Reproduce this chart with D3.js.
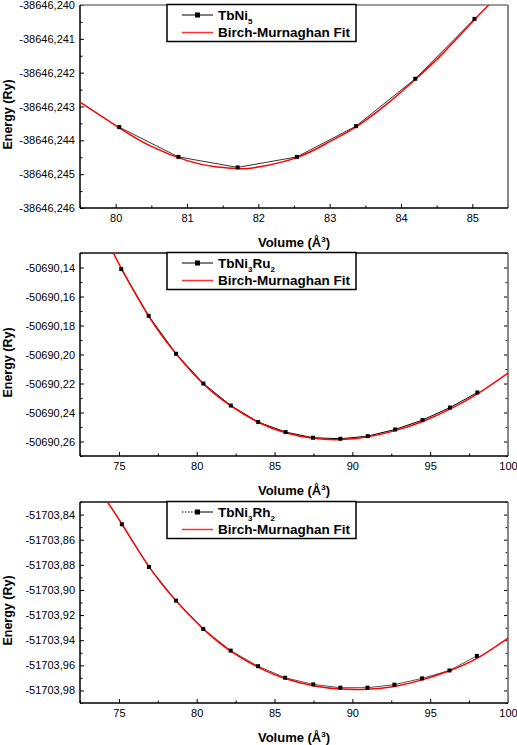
<!DOCTYPE html>
<html><head><meta charset="utf-8">
<script src="https://cdn.jsdelivr.net/npm/d3@7/dist/d3.min.js"></script>
<style>
body{margin:0;background:#fff}
svg{display:block}
text{font-family:"Liberation Sans",Arial,Helvetica,sans-serif}
</style>
</head><body>
<svg id="chart" width="517" height="745"></svg>
<script>
// ---------- DATA ----------
// Panel 1: TbNi5
const p1Volume = [80.05, 80.88, 81.71, 82.54, 83.37, 84.20, 85.03];
const p1Energy = [-38646.24361, -38646.24449, -38646.24480, -38646.24449, -38646.24358, -38646.24218, -38646.24041];
const p1FitVolume = [79.5, 80.05, 80.5, 81.0, 81.4, 81.75, 82.0, 82.54, 83.0, 83.37, 83.8, 84.2, 84.6, 85.0, 85.23];
const p1FitEnergy = [-38646.24287, -38646.24363, -38646.24418, -38646.24460, -38646.24478, -38646.24484, -38646.24479, -38646.24451, -38646.24404, -38646.24360, -38646.24293, -38646.24220, -38646.24140, -38646.24050, -38646.24000];
const p1XTicks = [80, 81, 82, 83, 84, 85];
const p1XMinor = [79.5, 80.5, 81.5, 82.5, 83.5, 84.5, 85.5];
const p1YTicks = [-38646.240, -38646.241, -38646.242, -38646.243, -38646.244, -38646.245, -38646.246];
const p1YMinor = [-38646.2405, -38646.2415, -38646.2425, -38646.2435, -38646.2445, -38646.2455];

// Panel 2: TbNi3Ru2
const p2Volume = [75.15, 76.91, 78.67, 80.43, 82.19, 83.95, 85.71, 87.47, 89.23, 90.99, 92.75, 94.51, 96.27, 98.03];
const p2Energy = [-50690.1411, -50690.1733, -50690.1995, -50690.2200, -50690.2352, -50690.2466, -50690.2535, -50690.2574, -50690.2581, -50690.2563, -50690.2517, -50690.2452, -50690.2366, -50690.2262];
const p2FitVolume = [74.65, 75.15, 76.91, 78.67, 80.43, 82.19, 83.95, 85.71, 87.47, 89.23, 90.99, 92.75, 94.51, 96.27, 98.03, 100];
const p2FitEnergy = [-50690.1300, -50690.1405, -50690.1735, -50690.1995, -50690.2203, -50690.2355, -50690.2467, -50690.2540, -50690.2578, -50690.2587, -50690.2568, -50690.2525, -50690.2462, -50690.2377, -50690.2272, -50690.2128];
const p2YTicks = [-50690.14, -50690.16, -50690.18, -50690.20, -50690.22, -50690.24, -50690.26];
const p2YMinor = [-50690.13, -50690.15, -50690.17, -50690.19, -50690.21, -50690.23, -50690.25, -50690.27];

// Panel 3: TbNi3Rh2
const p3Volume = [75.19, 76.93, 78.67, 80.42, 82.18, 83.94, 85.68, 87.49, 89.23, 90.97, 92.70, 94.48, 96.24, 98.00];
const p3Energy = [-51703.8477, -51703.8817, -51703.9085, -51703.9311, -51703.9483, -51703.9607, -51703.9699, -51703.9752, -51703.9778, -51703.9778, -51703.9754, -51703.9704, -51703.9641, -51703.9525];
const p3FitVolume = [74.26, 75.19, 76.93, 78.67, 80.42, 82.18, 83.94, 85.68, 87.49, 89.23, 90.97, 92.70, 94.48, 96.24, 98.00, 100];
const p3FitEnergy = [-51703.8300, -51703.8475, -51703.8815, -51703.9087, -51703.9310, -51703.9487, -51703.9614, -51703.9705, -51703.9762, -51703.9788, -51703.9790, -51703.9768, -51703.9716, -51703.9643, -51703.9545, -51703.9383];
const p3YTicks = [-51703.84, -51703.86, -51703.88, -51703.90, -51703.92, -51703.94, -51703.96, -51703.98];
const p3YMinor = [-51703.83, -51703.85, -51703.87, -51703.89, -51703.91, -51703.93, -51703.95, -51703.97, -51703.99];

const p23XTicks = [75, 80, 85, 90, 95, 100];
const p23XMinor = [72.5, 77.5, 82.5, 87.5, 92.5, 97.5];

const legendFit = "Birch-Murnaghan Fit";
const xTitle = "Volume (Å";
const yTitle = "Energy (Ry)";

// ---------- BUILD ----------
const svg = d3.select("#chart");
const L = 80, R = 508;

const panels = [
  {top: 5, bottom: 208, xDom: [79.5, 85.5], yDom: [-38646.246, -38646.240],
   vol: p1Volume, en: p1Energy, fv: p1FitVolume, fe: p1FitEnergy,
   xt: p1XTicks, xm: p1XMinor, yt: p1YTicks, ym: p1YMinor, dec: 3,
   name: [["TbNi",0],["5",1]], mirror: false, topColor: "#7a7a7a", lineColor: "#333", legDash: null},
  {top: 253, bottom: 456, xDom: [72.5, 100], yDom: [-50690.27, -50690.13],
   vol: p2Volume, en: p2Energy, fv: p2FitVolume, fe: p2FitEnergy,
   xt: p23XTicks, xm: p23XMinor, yt: p2YTicks, ym: p2YMinor, dec: 2,
   name: [["TbNi",0],["3",1],["Ru",0],["2",1]], mirror: true, topColor: "#111", lineColor: "#000", legDash: null},
  {top: 502, bottom: 703, xDom: [72.5, 100], yDom: [-51703.99, -51703.83],
   vol: p3Volume, en: p3Energy, fv: p3FitVolume, fe: p3FitEnergy,
   xt: p23XTicks, xm: p23XMinor, yt: p3YTicks, ym: p3YMinor, dec: 2,
   name: [["TbNi",0],["3",1],["Rh",0],["2",1]], mirror: true, topColor: "#111", lineColor: "#555", legDash: "1.5,1.5"}
];

panels.forEach((p, i) => {
  const g = svg.append("g");
  const x = d3.scaleLinear().domain(p.xDom).range([L, R]);
  const y = d3.scaleLinear().domain(p.yDom).range([p.bottom, p.top]);
  const fmt = d => d.toFixed(p.dec).replace(".", ",");

  const clipId = "clip" + i;
  svg.append("clipPath").attr("id", clipId).append("rect")
    .attr("x", L).attr("y", p.top).attr("width", R - L).attr("height", p.bottom - p.top);

  const styleAxis = sel => {
    sel.select(".domain").remove();
    sel.selectAll(".tick line").attr("stroke", "#000").attr("stroke-width", 1);
    sel.selectAll(".tick text").attr("fill", "#000").style("font-size", "11px")
      .style("font-family", "'Liberation Sans', Arial, sans-serif");
  };
  g.append("g").attr("transform", `translate(0,${p.bottom})`)
    .call(d3.axisBottom(x).tickValues(p.xt).tickSize(-4).tickPadding(6).tickFormat(d3.format("d")))
    .call(styleAxis);
  g.append("g").attr("transform", `translate(0,${p.bottom})`)
    .call(d3.axisBottom(x).tickValues(p.xm).tickSize(-2.5).tickFormat(""))
    .call(styleAxis);
  g.append("g").attr("transform", `translate(${L},0)`)
    .call(d3.axisLeft(y).tickValues(p.yt).tickSize(-4).tickPadding(5).tickFormat(fmt))
    .call(styleAxis);
  g.append("g").attr("transform", `translate(${L},0)`)
    .call(d3.axisLeft(y).tickValues(p.ym).tickSize(-2.5).tickFormat(""))
    .call(styleAxis);
  if (p.mirror) {
    g.append("g").attr("transform", `translate(${R},0)`)
      .call(d3.axisRight(y).tickValues(p.yt).tickSize(-4).tickFormat(""))
      .call(styleAxis);
    g.append("g").attr("transform", `translate(${R},0)`)
      .call(d3.axisRight(y).tickValues(p.ym).tickSize(-2.5).tickFormat(""))
      .call(styleAxis);
  }

  // frame
  g.append("line").attr("x1", L).attr("x2", R).attr("y1", p.top).attr("y2", p.top)
    .attr("stroke", p.topColor).attr("stroke-width", 1.6);
  g.append("line").attr("x1", R).attr("x2", R).attr("y1", p.top).attr("y2", p.bottom)
    .attr("stroke", "#7a7a7a").attr("stroke-width", 1.8);
  g.append("line").attr("x1", L).attr("x2", L).attr("y1", p.top).attr("y2", p.bottom)
    .attr("stroke", "#000").attr("stroke-width", 1.5);
  g.append("line").attr("x1", L).attr("x2", R).attr("y1", p.bottom).attr("y2", p.bottom)
    .attr("stroke", "#000").attr("stroke-width", 1.5);

  const pts = p.vol.map((v, k) => [v, p.en[k]]);
  const fit = p.fv.map((v, k) => [v, p.fe[k]]);
  const line = d3.line().x(d => x(d[0])).y(d => y(d[1]));
  const plot = g.append("g").attr("clip-path", `url(#${clipId})`);
  plot.append("path").attr("d", line(pts)).attr("fill", "none")
    .attr("stroke", p.lineColor).attr("stroke-width", 1);
  plot.append("path").attr("d", line.curve(d3.curveNatural)(fit)).attr("fill", "none")
    .attr("stroke", "#ff0000").attr("stroke-width", 1.5);
  plot.selectAll("rect.pt").data(pts).enter().append("rect").attr("class", "pt")
    .attr("x", d => x(d[0]) - 2).attr("y", d => y(d[1]) - 2)
    .attr("width", 4).attr("height", 4).attr("fill", "#000");

  // legend
  const lx = L + 87, ly = p.top - 0.5;
  const lg = g.append("g");
  lg.append("rect").attr("x", lx).attr("y", ly).attr("width", 189).attr("height", 37)
    .attr("fill", "#fff").attr("stroke", "#000").attr("stroke-width", 1.5);
  const r1 = ly + 10.5, r2 = ly + 28;
  if (p.legDash) {
    lg.append("line").attr("x1", lx + 15).attr("x2", lx + 28).attr("y1", r1).attr("y2", r1)
      .attr("stroke", "#555").attr("stroke-width", 1.5).attr("stroke-dasharray", p.legDash);
    lg.append("line").attr("x1", lx + 28).attr("x2", lx + 46).attr("y1", r1).attr("y2", r1)
      .attr("stroke", "#555").attr("stroke-width", 1.5);
  } else {
    lg.append("line").attr("x1", lx + 15).attr("x2", lx + 46).attr("y1", r1).attr("y2", r1)
      .attr("stroke", "#555").attr("stroke-width", 1.5);
  }
  lg.append("rect").attr("x", lx + 28).attr("y", r1 - 2.5).attr("width", 5).attr("height", 5).attr("fill", "#000");
  lg.append("line").attr("x1", lx + 15).attr("x2", lx + 46).attr("y1", r2).attr("y2", r2)
    .attr("stroke", "#ff3030").attr("stroke-width", 1.5);
  const t1 = lg.append("text").attr("x", lx + 51).attr("y", r1 + 4.5)
    .style("font-size", "13.5px").style("font-weight", "bold");
  let shifted = false;
  p.name.forEach(([s, sub]) => {
    const ts = t1.append("tspan").text(s);
    if (sub && !shifted) { ts.attr("dy", 4).style("font-size", "8px"); shifted = true; }
    else if (!sub && shifted) { ts.attr("dy", -4); shifted = false; }
    else if (sub) ts.style("font-size", "8px");
  });
  lg.append("text").attr("x", lx + 51).attr("y", r2 + 4.5)
    .style("font-size", "13.5px").style("font-weight", "bold").text(legendFit);

  // axis titles
  const xt = g.append("text").attr("x", (L + R) / 2).attr("y", p.bottom + 39)
    .attr("text-anchor", "middle").style("font-size", "13px").style("font-weight", "bold");
  xt.append("tspan").text(xTitle);
  xt.append("tspan").attr("dy", -5).style("font-size", "8px").text("3");
  xt.append("tspan").attr("dy", 5).text(")");

  g.append("text")
    .attr("transform", `translate(12,${(p.top + p.bottom) / 2 + 8}) rotate(-90)`)
    .attr("text-anchor", "middle").style("font-size", "12.5px").style("font-weight", "bold")
    .text(yTitle);
});
</script>
</body></html>
